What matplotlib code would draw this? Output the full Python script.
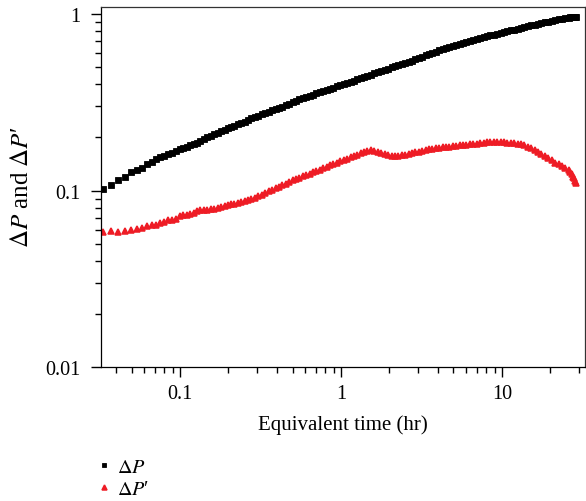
import matplotlib
matplotlib.use('Agg')
import matplotlib.pyplot as plt
from matplotlib.ticker import FixedLocator, NullFormatter

# Equivalent time (hr), same sampling for both series
t = [0.0332, 0.0373, 0.0412, 0.0455, 0.0496, 0.0541, 0.0581, 0.0624, 0.0670, 0.0709,
     0.0751, 0.0795, 0.0842, 0.0892, 0.0944,
     0.100, 0.105, 0.110, 0.116, 0.122, 0.128, 0.134, 0.141, 0.148, 0.155,
     0.163, 0.171, 0.180, 0.189, 0.198, 0.208, 0.218, 0.229, 0.240, 0.252,
     0.265, 0.278, 0.292, 0.307, 0.322, 0.338, 0.355, 0.373, 0.392, 0.411,
     0.432, 0.454, 0.476, 0.500, 0.525, 0.551, 0.579, 0.608, 0.638, 0.670,
     0.704, 0.739, 0.776, 0.815, 0.855, 0.898, 0.943, 0.990, 1.04, 1.09,
     1.15, 1.20, 1.26, 1.33, 1.39, 1.46, 1.54, 1.61, 1.69, 1.78,
     1.87, 1.96, 2.06, 2.16, 2.27, 2.38, 2.50, 2.63, 2.76, 2.90,
     3.04, 3.19, 3.35, 3.52, 3.70, 3.88, 4.08, 4.28, 4.49, 4.72,
     4.95, 5.20, 5.46, 5.73, 6.02, 6.32, 6.64, 6.97, 7.32, 7.69,
     8.07, 8.47, 8.90, 9.34, 9.81, 10.3, 10.8, 11.4, 11.9, 12.5,
     13.2, 13.8, 14.5, 15.2, 16.0, 16.8, 17.6, 18.5, 19.4, 20.4,
     21.4, 22.5, 23.6, 24.8, 26.0, 26.6, 27.3, 27.7, 28.0, 28.4, 28.7]

# pressure change
dp = [0.1026, 0.108, 0.114, 0.120, 0.1265, 0.131, 0.135, 0.141, 0.146, 0.150,
      0.154, 0.157, 0.161, 0.164, 0.167,
      0.171, 0.174, 0.177, 0.181, 0.184, 0.187, 0.192, 0.196, 0.200, 0.204,
      0.208, 0.212, 0.217, 0.221, 0.225, 0.229, 0.233, 0.237, 0.241, 0.246,
      0.251, 0.256, 0.260, 0.265, 0.270, 0.275, 0.280, 0.285, 0.290, 0.294,
      0.299, 0.305, 0.310, 0.316, 0.322, 0.328, 0.334, 0.339, 0.344, 0.349,
      0.355, 0.360, 0.365, 0.371, 0.377, 0.383, 0.389, 0.395, 0.401, 0.407,
      0.413, 0.419, 0.426, 0.433, 0.440, 0.447, 0.454, 0.461, 0.468, 0.476,
      0.483, 0.491, 0.498, 0.505, 0.513, 0.521, 0.529, 0.537, 0.545, 0.556,
      0.565, 0.574, 0.583, 0.593, 0.603, 0.612, 0.622, 0.631, 0.640, 0.649,
      0.658, 0.667, 0.676, 0.685, 0.694, 0.704, 0.713, 0.722, 0.731, 0.739,
      0.747, 0.756, 0.764, 0.772, 0.781, 0.790, 0.799, 0.808, 0.817, 0.826,
      0.835, 0.844, 0.853, 0.863, 0.872, 0.881, 0.890, 0.898, 0.906, 0.914,
      0.922, 0.931, 0.939, 0.946, 0.953, 0.957, 0.961, 0.963, 0.964, 0.966, 0.968]

# pressure derivative
dpd = [0.0585, 0.0592, 0.0585, 0.0592, 0.0600, 0.0608, 0.0616, 0.0632, 0.0641, 0.0641,
       0.0658, 0.0667, 0.0684, 0.0684, 0.0693,
       0.0721, 0.0728, 0.0730, 0.0735, 0.0745, 0.0765, 0.0775, 0.0778, 0.0780, 0.0782,
       0.0786, 0.0792, 0.0805, 0.0815, 0.0826, 0.0836, 0.0843, 0.0850, 0.0859, 0.0868,
       0.0882, 0.0895, 0.0910, 0.0928, 0.0946, 0.0966, 0.0990, 0.1010, 0.1028, 0.1047,
       0.1068, 0.1094, 0.1118, 0.1140, 0.1160, 0.1180, 0.1203, 0.1224, 0.1246, 0.1268,
       0.1290, 0.1315, 0.1340, 0.1362, 0.1387, 0.1412, 0.1437, 0.1464, 0.1490, 0.1515,
       0.1545, 0.1570, 0.1598, 0.1630, 0.1658, 0.1685, 0.1690, 0.1682, 0.1660, 0.1640,
       0.1615, 0.1595, 0.1570, 0.1563, 0.1572, 0.1585, 0.1598, 0.1615, 0.1628, 0.1642,
       0.1658, 0.1672, 0.1690, 0.1708, 0.1725, 0.1735, 0.1745, 0.1755, 0.1765, 0.1775,
       0.1785, 0.1793, 0.1800, 0.1808, 0.1815, 0.1825, 0.1835, 0.1845, 0.1855, 0.1865,
       0.1872, 0.1875, 0.1875, 0.1872, 0.1874, 0.1872, 0.1868, 0.1862, 0.1855, 0.1845,
       0.1825, 0.1803, 0.1770, 0.1730, 0.1690, 0.1645, 0.1605, 0.1565, 0.1525, 0.1485,
       0.1440, 0.1410, 0.1380, 0.1345, 0.1305, 0.1275, 0.1233, 0.1200, 0.1170, 0.1130, 0.1100]

xticks = [0.1, 1, 10]
xticklabels = ['0.1', '1', '10']
yticks = [0.01, 0.1, 1]
yticklabels = ['0.01', '0.1', '1']

plt.rcParams['font.family'] = ['Liberation Serif', 'DejaVu Serif']
plt.rcParams['mathtext.fontset'] = 'stix'
plt.rcParams['font.size'] = 14.5

fig = plt.figure(figsize=(5.86, 5.02), dpi=100)
ax = fig.add_axes([101/586, 1 - 368/502, 484/586, 360.5/502])

ax.plot(t, dp, 's', color='black', markersize=4.2, markeredgewidth=0.6,
        label=r'$\Delta P$')
ax.plot(t, dpd, '^', color='#ee1c25', markersize=4.2, markeredgewidth=1.1,
        label=r'$\Delta P$′')

ax.set_xscale('log')
ax.set_yscale('log')
ax.set_xlim(0.0323, 32.8)
ax.set_ylim(0.01, 1.103)

ax.xaxis.set_major_locator(FixedLocator(xticks))
ax.set_xticklabels(xticklabels)
ax.yaxis.set_major_locator(FixedLocator(yticks))
ax.set_yticklabels(yticklabels)
ax.xaxis.set_minor_formatter(NullFormatter())
ax.yaxis.set_minor_formatter(NullFormatter())

ax.tick_params(which='major', direction='out', length=7, width=1, pad=5,
               top=False, right=False)
ax.tick_params(which='minor', direction='out', length=4.5, width=1,
               top=False, right=False)
ax.tick_params(axis='y', which='major', pad=8)
for s in ax.spines.values():
    s.set_linewidth(0.9)
ax.spines['top'].set_color('#333333')
ax.spines['right'].set_color('#333333')

ax.set_xlabel('Equivalent time (hr)', fontsize=15)
ax.xaxis.set_label_coords(0.5, -0.132)
ax.set_ylabel(r'$\Delta P$ and $\Delta P$′', fontsize=18)
ax.yaxis.set_label_coords(-0.14, 0.5)

leg = fig.legend(loc='upper left', bbox_to_anchor=(98/586, 1 - 459/502),
                 frameon=False, borderpad=0, borderaxespad=0, numpoints=1,
                 handlelength=0.55, handletextpad=0.4, labelspacing=0.12,
                 markerscale=0.85, fontsize=14.5)

fig.savefig('out.png', dpi=100)
